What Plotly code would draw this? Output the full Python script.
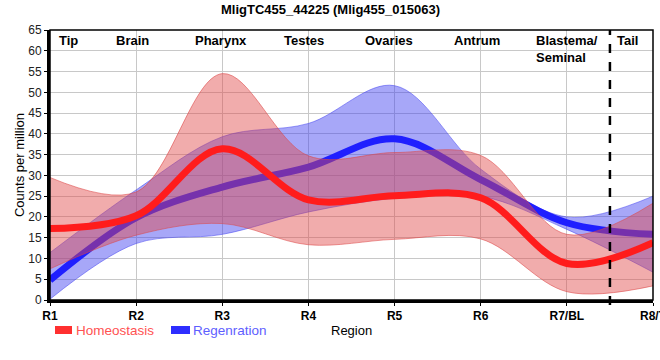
import plotly.graph_objects as go

regions = ["R1", "R2", "R3", "R4", "R5", "R6", "R7/BL", "R8/T"]
xpos = list(range(len(regions)))

homeo_mean = [17.2, 20.3, 36.4, 24.1, 25.1, 24.6, 8.8, 13.8]
homeo_upper = [29.5, 26.0, 54.5, 34.7, 35.5, 34.8, 15.8, 23.3]
homeo_lower = [7.5, 15.6, 18.4, 13.3, 14.6, 14.7, 2.0, 3.4]

regen_mean = [4.8, 19.8, 27.2, 32.0, 38.8, 29.0, 18.6, 15.8]
regen_upper = [11.4, 26.5, 39.3, 42.5, 51.6, 31.5, 20.0, 25.0]
regen_lower = [0.2, 13.6, 15.8, 21.2, 24.5, 25.0, 17.0, 6.7]

tissue_labels = ["Tip", "Brain", "Pharynx", "Testes", "Ovaries", "Antrum", "Blastema/<br>Seminal", "Tail"]
tissue_x = [0.22, 0.96, 1.98, 2.95, 3.93, 4.96, 5.62, 6.70]

FONT = "Liberation Sans, Arial, sans-serif"
SM = 1.0

# plot area in pixels: x 50..653, y 30..300
L, R, T, B = 50, 653, 30, 300
def px(xp):
    return (xp - L) / (R - L)
def py(yp):
    return (B - yp) / (B - T)

fig = go.Figure()

fig.add_trace(go.Scatter(x=xpos, y=regen_upper, mode="lines",
                         line=dict(color="rgba(70,70,240,0.55)", width=1, shape="spline", smoothing=SM),
                         showlegend=False, hoverinfo="skip"))
fig.add_trace(go.Scatter(x=xpos, y=regen_lower, mode="lines", fill="tonexty",
                         fillcolor="rgba(60,60,240,0.45)",
                         line=dict(color="rgba(70,70,240,0.55)", width=1, shape="spline", smoothing=SM),
                         showlegend=False, hoverinfo="skip"))
fig.add_trace(go.Scatter(x=xpos, y=regen_mean, mode="lines", name="Regenration",
                         line=dict(color="#1f1fff", width=7, shape="spline", smoothing=SM),
                         showlegend=False))
fig.add_trace(go.Scatter(x=xpos, y=homeo_upper, mode="lines",
                         line=dict(color="rgba(220,70,70,0.55)", width=1, shape="spline", smoothing=SM),
                         showlegend=False, hoverinfo="skip"))
fig.add_trace(go.Scatter(x=xpos, y=homeo_lower, mode="lines", fill="tonexty",
                         fillcolor="rgba(224,72,72,0.45)",
                         line=dict(color="rgba(220,70,70,0.55)", width=1, shape="spline", smoothing=SM),
                         showlegend=False, hoverinfo="skip"))
fig.add_trace(go.Scatter(x=xpos, y=homeo_mean, mode="lines", name="Homeostasis",
                         line=dict(color="#ff1c1c", width=7, shape="spline", smoothing=SM),
                         showlegend=False))

annotations = []
for lab, tx in zip(tissue_labels, tissue_x):
    multi = "<br>" in lab
    annotations.append(dict(x=tx, y=py(31), xref="x", yref="paper",
                            text="<b>" + lab + "</b>", showarrow=False,
                            xanchor="left" if multi else "center", yanchor="top",
                            align="left", font=dict(family=FONT, size=13, color="black")))
annotations.append(dict(x=px(330), y=py(10), xref="paper", yref="paper",
                        text="<b>MligTC455_44225 (Mlig455_015063)</b>", showarrow=False,
                        xanchor="center", yanchor="middle",
                        font=dict(family=FONT, size=13, color="black")))
annotations.append(dict(x=px(351), y=py(331), xref="paper", yref="paper",
                        text="Region", showarrow=False, xanchor="center", yanchor="middle",
                        font=dict(family=FONT, size=13, color="black")))
legend_items = [("Homeostasis", "#ff3030", "#ff5252", 55, 72, 74),
                ("Regenration", "#2e2eff", "#5e5eff", 171, 190, 191)]
shapes = [
    dict(type="line", x0=6.5, x1=6.5, xref="x", y0=py(305), y1=1, yref="paper",
         line=dict(color="black", width=2.5, dash="dash")),
    dict(type="rect", x0=0, x1=1, xref="paper", y0=0, y1=1, yref="paper",
         line=dict(color="black", width=1.5), layer="above"),
]
for name, sw, tc, x0, x1, tx in legend_items:
    shapes.append(dict(type="rect", xref="paper", yref="paper", x0=px(x0), x1=px(x1),
                       y0=py(334), y1=py(326), line=dict(width=0), fillcolor=sw))
    annotations.append(dict(x=px(tx), y=py(330), xref="paper", yref="paper", text=name,
                            showarrow=False, xanchor="left", yanchor="middle",
                            font=dict(family=FONT, size=13.5, color=tc)))

fig.update_layout(
    width=660, height=360,
    margin=dict(l=L, r=660 - R, t=T, b=360 - B, autoexpand=False),
    paper_bgcolor="white", plot_bgcolor="white",
    font=dict(family=FONT, size=12, color="black"),
    annotations=annotations, shapes=shapes,
    showlegend=False,
    xaxis=dict(range=[0, 7], tickvals=xpos, ticktext=["<b>" + r + "</b>" for r in regions],
               showgrid=True, gridcolor="#c8c8c8", gridwidth=1, zeroline=False,
               showline=True, linecolor="black", linewidth=3, automargin=False,
               ticks="outside", ticklen=3, tickcolor="black", ticklabeloverflow="allow",
               ticklabelstandoff=0,
               tickfont=dict(family=FONT, size=12, color="black")),
    yaxis=dict(range=[0, 65], dtick=5, showgrid=True, gridcolor="#c8c8c8", gridwidth=1,
               zeroline=False, showline=True, linecolor="black", linewidth=3, automargin=False,
               ticks="outside", ticklen=3, tickcolor="black",
               title=dict(text="Counts per million", font=dict(family=FONT, size=13), standoff=1),
               tickfont=dict(family=FONT, size=12, color="#222")),
)

fig.write_html("out.html", config={"displayModeBar": False},
               post_script="document.body.style.margin='0';")
